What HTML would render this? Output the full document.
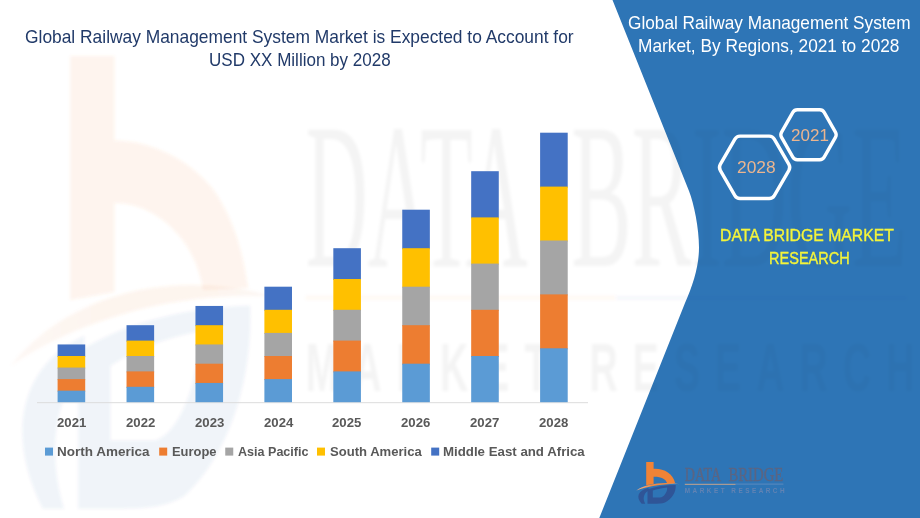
<!DOCTYPE html>
<html><head><meta charset="utf-8"><title>Global Railway Management System Market</title>
<style>
html,body{margin:0;padding:0;background:#fff}
body{width:920px;height:518px;position:relative;overflow:hidden;font-family:"Liberation Sans",sans-serif}
.t div{position:absolute;white-space:nowrap;transform-origin:0 0}
</style></head><body>
<svg width="920" height="518" viewBox="0 0 920 518" style="position:absolute;left:0;top:0">
<defs>
<linearGradient id="sw" x1="0" x2="1" y1="0" y2="0"><stop offset="0" stop-color="#F2B48E"/><stop offset="0.35" stop-color="#EF8A45"/><stop offset="0.75" stop-color="#EF8A45"/><stop offset="1" stop-color="#D9A88C"/></linearGradient>
<filter id="bl" x="-5%" y="-5%" width="110%" height="110%"><feGaussianBlur stdDeviation="1.6"/></filter>
<path id="lgo1" d="M646.2,461.9 L653.6,461.9 L653.6,468.8 C664,468.3 673,473.5 675.1,483.1 L667.2,483.5 C666,479 661,476.6 653.6,476.8 L653.6,484 L646.2,485.3 Z" fill="#F08336"/>
<path id="lgo2" d="M636.4,490.6 C645,484.3 662,481.3 679.9,484.2 C664,483.6 648,486.2 636.4,490.6 Z" fill="url(#sw)"/>
<g id="lgb" fill="#2F5597">
<path fill-rule="evenodd" d="M647.5,489.3 C656,486.3 666,485.2 675.7,485 C676.2,492 672,499 665,502.6 C661,504 657,503.8 647.5,503.8 Z M652.8,490.6 C657,489 662,488 667.2,487.4 C667.5,492 664,497 660,497.5 L652.8,497.5 Z"/>
<path d="M641.7,503.8 C635.5,497 638,490.5 648.5,487.8 L648.5,490.6 C643.5,493.5 642.5,499 645.2,503.8 Z"/>
</g>
<g id="lgt">
<text x="684.8" y="481.3" font-family="Liberation Serif" font-size="19.2" fill="#5B6583" stroke="#5B6583" stroke-width="0.35" textLength="36.4" lengthAdjust="spacingAndGlyphs">DATA</text><text x="728.4" y="481.3" font-family="Liberation Serif" font-size="19.2" fill="#5B6583" stroke="#5B6583" stroke-width="0.35" textLength="55" lengthAdjust="spacingAndGlyphs">BRIDGE</text>
<line x1="684.8" y1="484.3" x2="735.6" y2="484.3" stroke="#C9A48C" stroke-width="1"/>
<line x1="735.6" y1="484.1" x2="783.4" y2="484.1" stroke="#6F93C4" stroke-width="0.7"/>
<text x="684.8" y="492.9" font-family="Liberation Sans" font-size="6.4" font-weight="bold" fill="#6283B3" textLength="99.8" lengthAdjust="spacing">MARKET RESEARCH</text>
</g>
<g id="wmt">
<text x="684.8" y="481.3" font-family="Liberation Serif" font-size="19.2" fill="#222" textLength="36.4" lengthAdjust="spacingAndGlyphs">DATA</text><text x="728.4" y="481.3" font-family="Liberation Serif" font-size="19.2" fill="#222" textLength="55" lengthAdjust="spacingAndGlyphs">BRIDGE</text>
<line x1="684.8" y1="484.3" x2="735.6" y2="484.3" stroke="#ED7D31" stroke-width="0.4"/>
<line x1="735.6" y1="484.3" x2="783.4" y2="484.3" stroke="#2F5597" stroke-width="0.3"/>
<text x="684.8" y="492.9" font-family="Liberation Sans" font-size="6.4" font-weight="bold" fill="#222" textLength="99.8" lengthAdjust="spacing">MARKET RESEARCH</text>
</g>
<clipPath id="cp"><path d="M612.5,0 L689,191 C694,204 699,228 699,247.6 C699,266 693,285 685,303 L599.3,518 L920,518 L920,0 Z"/></clipPath>
<clipPath id="cw"><path d="M0,0 L612.5,0 L689,191 C694,204 699,228 699,247.6 C699,266 693,285 685,303 L599.3,518 L0,518 Z"/></clipPath>
</defs>
<!-- blue panel -->
<path d="M612.5,0 L689,191 C694,204 699,228 699,247.6 C699,266 693,285 685,303 L599.3,518 L920,518 L920,0 Z" fill="#2E75B6"/>
<!-- watermark: enlarged logo -->
<g filter="url(#bl)"><path d="M70.2,56 L114.4,56 L114.4,140.4 C150,140 190,160 212,188 C232,215 243,250 248,288 L203,290 C199,262 185,236 160,218 C146,208 130,203 114.4,203 L114.4,292 L70.2,300 Z" fill="#F08336" opacity="0.085"/><g transform="translate(70.2,56) scale(6.1,10.8) translate(-646.2,-461.9)">
<use href="#lgo2" opacity="0.085"/>
<use href="#lgb" opacity="0.06"/>
</g></g>
<g clip-path="url(#cw)"><g filter="url(#bl)"><g transform="translate(70.2,56) scale(6.1,10.8) translate(-646.2,-461.9)"><use href="#wmt" opacity="0.045"/></g></g></g>
<g clip-path="url(#cp)"><g filter="url(#bl)"><g transform="translate(70.2,56) scale(6.1,10.8) translate(-646.2,-461.9)"><use href="#wmt" opacity="0.028"/></g></g></g>
<!-- axis -->
<line x1="37" y1="402.7" x2="588" y2="402.7" stroke="#DCDCDC" stroke-width="1"/>
<rect x="57.60" y="344.45" width="27.6" height="12.55" fill="#4472C4"/>
<rect x="57.60" y="356.00" width="27.6" height="12.55" fill="#FFC000"/>
<rect x="57.60" y="367.55" width="27.6" height="12.55" fill="#A5A5A5"/>
<rect x="57.60" y="379.10" width="27.6" height="12.55" fill="#ED7D31"/>
<rect x="57.60" y="390.65" width="27.6" height="11.55" fill="#5B9BD5"/>
<rect x="126.53" y="325.20" width="27.6" height="16.40" fill="#4472C4"/>
<rect x="126.53" y="340.60" width="27.6" height="16.40" fill="#FFC000"/>
<rect x="126.53" y="356.00" width="27.6" height="16.40" fill="#A5A5A5"/>
<rect x="126.53" y="371.40" width="27.6" height="16.40" fill="#ED7D31"/>
<rect x="126.53" y="386.80" width="27.6" height="15.40" fill="#5B9BD5"/>
<rect x="195.46" y="305.95" width="27.6" height="20.25" fill="#4472C4"/>
<rect x="195.46" y="325.20" width="27.6" height="20.25" fill="#FFC000"/>
<rect x="195.46" y="344.45" width="27.6" height="20.25" fill="#A5A5A5"/>
<rect x="195.46" y="363.70" width="27.6" height="20.25" fill="#ED7D31"/>
<rect x="195.46" y="382.95" width="27.6" height="19.25" fill="#5B9BD5"/>
<rect x="264.39" y="286.70" width="27.6" height="24.10" fill="#4472C4"/>
<rect x="264.39" y="309.80" width="27.6" height="24.10" fill="#FFC000"/>
<rect x="264.39" y="332.90" width="27.6" height="24.10" fill="#A5A5A5"/>
<rect x="264.39" y="356.00" width="27.6" height="24.10" fill="#ED7D31"/>
<rect x="264.39" y="379.10" width="27.6" height="23.10" fill="#5B9BD5"/>
<rect x="333.32" y="248.20" width="27.6" height="31.80" fill="#4472C4"/>
<rect x="333.32" y="279.00" width="27.6" height="31.80" fill="#FFC000"/>
<rect x="333.32" y="309.80" width="27.6" height="31.80" fill="#A5A5A5"/>
<rect x="333.32" y="340.60" width="27.6" height="31.80" fill="#ED7D31"/>
<rect x="333.32" y="371.40" width="27.6" height="30.80" fill="#5B9BD5"/>
<rect x="402.25" y="209.70" width="27.6" height="39.50" fill="#4472C4"/>
<rect x="402.25" y="248.20" width="27.6" height="39.50" fill="#FFC000"/>
<rect x="402.25" y="286.70" width="27.6" height="39.50" fill="#A5A5A5"/>
<rect x="402.25" y="325.20" width="27.6" height="39.50" fill="#ED7D31"/>
<rect x="402.25" y="363.70" width="27.6" height="38.50" fill="#5B9BD5"/>
<rect x="471.18" y="171.20" width="27.6" height="47.20" fill="#4472C4"/>
<rect x="471.18" y="217.40" width="27.6" height="47.20" fill="#FFC000"/>
<rect x="471.18" y="263.60" width="27.6" height="47.20" fill="#A5A5A5"/>
<rect x="471.18" y="309.80" width="27.6" height="47.20" fill="#ED7D31"/>
<rect x="471.18" y="356.00" width="27.6" height="46.20" fill="#5B9BD5"/>
<rect x="540.11" y="132.70" width="27.6" height="54.90" fill="#4472C4"/>
<rect x="540.11" y="186.60" width="27.6" height="54.90" fill="#FFC000"/>
<rect x="540.11" y="240.50" width="27.6" height="54.90" fill="#A5A5A5"/>
<rect x="540.11" y="294.40" width="27.6" height="54.90" fill="#ED7D31"/>
<rect x="540.11" y="348.30" width="27.6" height="53.90" fill="#5B9BD5"/>
<rect x="45.0" y="447.6" width="8" height="8" fill="#5B9BD5"/>
<rect x="159.2" y="447.6" width="8" height="8" fill="#ED7D31"/>
<rect x="225.25" y="447.6" width="8" height="8" fill="#A5A5A5"/>
<rect x="317.0" y="447.6" width="8" height="8" fill="#FFC000"/>
<rect x="431.2" y="447.6" width="8" height="8" fill="#4472C4"/>
<!-- hexagons -->
<path d="M788.90,164.40 Q790.60,167.35 788.90,170.30 L774.30,195.60 Q772.60,198.55 769.20,198.55 L740.00,198.55 Q736.60,198.55 734.90,195.60 L720.30,170.30 Q718.60,167.35 720.30,164.40 L734.90,139.10 Q736.60,136.15 740.00,136.15 L769.20,136.15 Q772.60,136.15 774.30,139.10 Z" fill="none" stroke="#fff" stroke-width="3.4" stroke-linejoin="round"/>
<path d="M835.42,132.19 Q836.90,134.80 835.42,137.41 L824.18,157.19 Q822.70,159.80 819.70,159.80 L797.30,159.80 Q794.30,159.80 792.82,157.19 L781.58,137.41 Q780.10,134.80 781.58,132.19 L792.82,112.41 Q794.30,109.80 797.30,109.80 L819.70,109.80 Q822.70,109.80 824.18,112.41 Z" fill="none" stroke="#fff" stroke-width="3.4" stroke-linejoin="round"/>
<!-- logo -->
<use href="#lgo1"/><use href="#lgo2"/><use href="#lgb"/><use href="#lgt"/>
</svg>
<div class="t">
<div style="left:25.30px;top:26.49px;font-size:18.5px;line-height:22.20px;font-weight:normal;color:#213A69;transform:scaleX(0.9393)">Global Railway Management System Market is Expected to Account for</div>
<div style="left:208.60px;top:49.39px;font-size:18.5px;line-height:22.20px;font-weight:normal;color:#213A69;transform:scaleX(0.9204)">USD XX Million by 2028</div>
<div style="left:627.80px;top:11.99px;font-size:18.5px;line-height:22.20px;font-weight:normal;color:#FFFFFF;transform:scaleX(0.9313)">Global Railway Management System</div>
<div style="left:638.30px;top:34.99px;font-size:18.5px;line-height:22.20px;font-weight:normal;color:#FFFFFF;transform:scaleX(0.9348)">Market, By Regions, 2021 to 2028</div>
<div style="left:720.30px;top:225.02px;font-size:17.2px;line-height:20.64px;font-weight:normal;color:#F4F43A;-webkit-text-stroke:0.35px #F4F43A;transform:scaleX(0.9181)">DATA BRIDGE MARKET</div>
<div style="left:768.60px;top:247.72px;font-size:17.2px;line-height:20.64px;font-weight:normal;color:#F4F43A;-webkit-text-stroke:0.35px #F4F43A;transform:scaleX(0.8459)">RESEARCH</div>
<div style="left:737.00px;top:158.40px;font-size:16.8px;line-height:20.16px;font-weight:normal;color:#EBB58F;transform:scaleX(1.0363)">2028</div>
<div style="left:790.80px;top:125.70px;font-size:16.8px;line-height:20.16px;font-weight:normal;color:#EBB58F;transform:scaleX(1.0149)">2021</div>
<div style="left:57.20px;top:444.13px;font-size:13.7px;line-height:16.44px;font-weight:bold;color:#595959;transform:scaleX(0.9849)">North America</div>
<div style="left:171.50px;top:444.13px;font-size:13.7px;line-height:16.44px;font-weight:bold;color:#595959;transform:scaleX(0.9437)">Europe</div>
<div style="left:237.50px;top:444.13px;font-size:13.7px;line-height:16.44px;font-weight:bold;color:#595959;transform:scaleX(0.9173)">Asia Pacific</div>
<div style="left:329.50px;top:444.13px;font-size:13.7px;line-height:16.44px;font-weight:bold;color:#595959;transform:scaleX(0.9548)">South America</div>
<div style="left:443.25px;top:444.13px;font-size:13.7px;line-height:16.44px;font-weight:bold;color:#595959;transform:scaleX(0.9689)">Middle East and Africa</div>
<div style="left:56.75px;top:414.80px;font-size:13.1px;line-height:15.72px;font-weight:bold;color:#595959;transform:scaleX(1.0055)">2021</div>
<div style="left:125.68px;top:414.80px;font-size:13.1px;line-height:15.72px;font-weight:bold;color:#595959;transform:scaleX(1.0055)">2022</div>
<div style="left:194.61px;top:414.80px;font-size:13.1px;line-height:15.72px;font-weight:bold;color:#595959;transform:scaleX(1.0055)">2023</div>
<div style="left:263.54px;top:414.80px;font-size:13.1px;line-height:15.72px;font-weight:bold;color:#595959;transform:scaleX(1.0055)">2024</div>
<div style="left:332.47px;top:414.80px;font-size:13.1px;line-height:15.72px;font-weight:bold;color:#595959;transform:scaleX(1.0055)">2025</div>
<div style="left:401.40px;top:414.80px;font-size:13.1px;line-height:15.72px;font-weight:bold;color:#595959;transform:scaleX(1.0055)">2026</div>
<div style="left:470.33px;top:414.80px;font-size:13.1px;line-height:15.72px;font-weight:bold;color:#595959;transform:scaleX(1.0055)">2027</div>
<div style="left:539.26px;top:414.80px;font-size:13.1px;line-height:15.72px;font-weight:bold;color:#595959;transform:scaleX(1.0055)">2028</div>
</div>
</body></html>
